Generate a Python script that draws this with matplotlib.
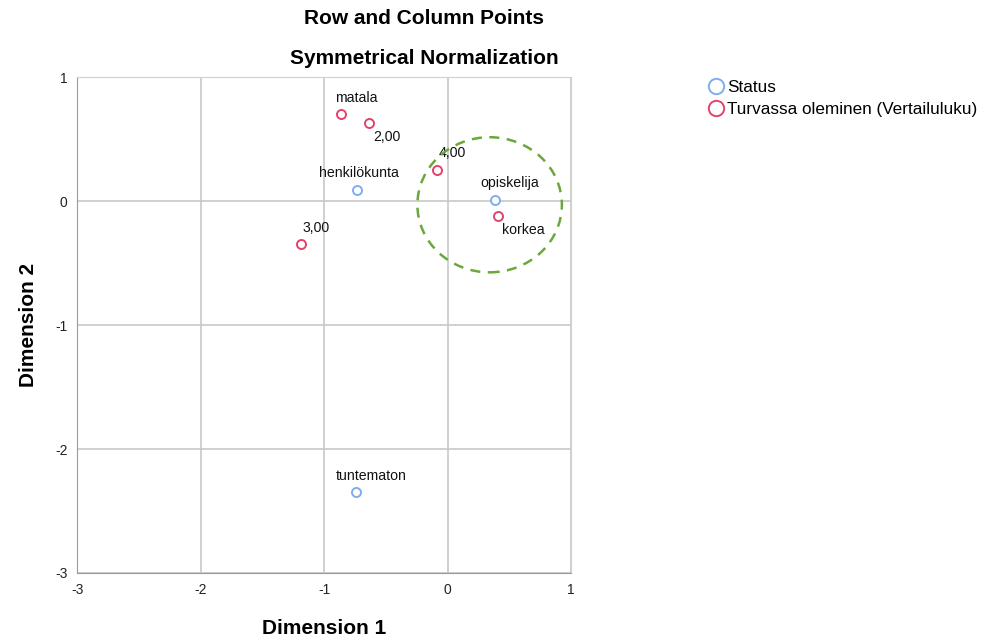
import matplotlib
matplotlib.use("Agg")
import matplotlib.pyplot as plt
from matplotlib.patches import Ellipse
import numpy as np

plt.rcParams['font.family'] = ['Liberation Sans', 'DejaVu Sans']
plt.rcParams['axes.unicode_minus'] = False

# row points (Status)
status_labels = ["henkilökunta", "opiskelija", "tuntematon"]
status_x = [-0.73, 0.38, -0.74]
status_y = [0.09, 0.01, -2.35]

# column points (Turvassa oleminen)
turva_labels = ["matala", "2,00", "4,00", "korkea", "3,00"]
turva_x = [-0.86, -0.64, -0.09, 0.41, -1.19]
turva_y = [0.70, 0.63, 0.25, -0.12, -0.35]

# label offsets in points (dx, dy)
status_off = [(1, 12), (11, 12), (11, 12)]
turva_off = [(11, 12), (13, -10), (11, 12), (18, -10), (11, 12)]

blue = "#7eaef0"
red = "#e2436a"

fig = plt.figure(figsize=(9.89, 6.37), dpi=100)
ax = fig.add_axes([0.078, 0.1005, 0.4995, 0.7785])

ax.set_xlim(-3, 1)
ax.set_ylim(-3, 1)
ax.set_xticks([-3, -2, -1, 0, 1])
ax.set_yticks([-3, -2, -1, 0, 1])
ax.grid(True, color="#c8c8c8", linewidth=1.2)
ax.set_axisbelow(True)
for s in ["top", "right"]:
    ax.spines[s].set_color("#d0d0d0")
for s in ["left", "bottom"]:
    ax.spines[s].set_color("#9a9a9a")
ax.tick_params(length=0, labelsize=10, colors="#222222", pad=7)

ax.plot(status_x, status_y, "o", mfc="white", mec=blue, mew=1.4, ms=6.5,
        linestyle="none", label="Status", zorder=3)
ax.plot(turva_x, turva_y, "o", mfc="white", mec=red, mew=1.4, ms=6.5,
        linestyle="none", label="Turvassa oleminen (Vertailuluku)", zorder=3)

for lab, x, y, off in zip(status_labels, status_x, status_y, status_off):
    ax.annotate(lab, (x, y), xytext=off, textcoords="offset points",
                ha="center", va="center", fontsize=10.2, color="#111111")
for lab, x, y, off in zip(turva_labels, turva_x, turva_y, turva_off):
    ax.annotate(lab, (x, y), xytext=off, textcoords="offset points",
                ha="center", va="center", fontsize=10.2, color="#111111")

ax.add_patch(Ellipse((0.34, -0.03), 1.17, 1.09, fill=False, edgecolor="#6aa83c",
                     linestyle=(0, (4, 3)), linewidth=1.8, zorder=4))

ax.set_xlabel("Dimension 1", fontsize=15, fontweight="bold", labelpad=16)
ax.set_ylabel("Dimension 2", fontsize=15, fontweight="bold", labelpad=12)

fig.text(0.4287, 0.971, "Row and Column Points", ha="center", va="center",
         fontsize=15, fontweight="bold")
fig.text(0.4287, 0.908, "Symmetrical Normalization", ha="center", va="center",
         fontsize=15, fontweight="bold")

leg = fig.legend(loc="upper left", bbox_to_anchor=(0.708, 0.885), frameon=False,
                 fontsize=12.3, handletextpad=0.15, borderaxespad=0, labelspacing=0.42,
                 handlelength=1.0, markerscale=1.7)
for h in leg.legend_handles:
    h.set_markeredgewidth(1.4)

fig.savefig("out.png", dpi=100)
